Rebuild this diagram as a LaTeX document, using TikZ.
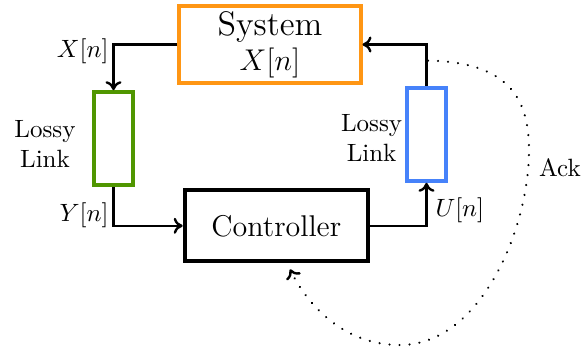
\documentclass[tikz,border=0pt]{standalone}
\usetikzlibrary{calc,positioning,arrows.meta}
\definecolor{sysorange}{RGB}{255,150,20}
\definecolor{linkgreen}{RGB}{80,150,0}
\definecolor{linkblue}{RGB}{70,130,250}
\tikzset{
	block/.style={draw, line width=1.6pt, align=center, font=\large, inner sep=0pt},
	lossy/.style={draw, line width=1.6pt, minimum width=15.4pt, minimum height=37.3pt},
	sig/.style={line width=0.95pt, -{To[length=3.6pt,width=6.4pt]}},
	lbl/.style={inner sep=1pt},
}
\begin{document}
\begin{tikzpicture}[x=0.4pt,y=0.4pt]
		\useasboundingbox (0,0) rectangle (582,-349);
		% blocks
		\node[block, draw=sysorange, minimum width=72.4pt, minimum height=30.8pt] (sys) at (270,-44.5) {{\fontsize{13.6}{15}\selectfont System}\\$X[n]$};
		\node[block, minimum width=73.3pt, minimum height=28.4pt] (ctrl) at (276.3,-225.8) {Controller};
		\node[lossy, draw=linkgreen] (lnkA) at (113.5,-138.8) {};
		\node[lossy, draw=linkblue] (lnkB) at (426.5,-134.2) {};
		\node[align=center] (lnkAtxt) at (45,-144) {Lossy\\Link};
		\node[align=center] (lnkBtxt) at (371.6,-138) {Lossy\\Link};
		% signals
		\draw[sig] (sys.west) -| (lnkA.north);
		\draw[sig] (lnkA.south) |- (ctrl.west);
		\draw[sig] (ctrl.east) -| (lnkB.south);
		\draw[sig] (lnkB.north) |- (sys.east);
		\node[lbl, anchor=east] (xlbl) at (111.5,-51) {$X[n]$};
		\node[lbl, anchor=east] (ylbl) at (111.5,-215) {$Y[n]$};
		\node[lbl, anchor=west] (ulbl) at (432.5,-210) {$U[n]$};
		% acknowledgement
		\coordinate (ackfrom) at ($(lnkB.north)+(1.5,25)$);
		\coordinate (ackto) at ($(ctrl.south)+(13.7,-6)$);
		\draw[sig, dash pattern=on 0.01pt off 4pt, line cap=round] (ackfrom) .. controls (510,-62) and (529,-100) .. (529,-150)
			.. controls (529,-230) and (480,-345) .. (400,-345)
			.. controls (340,-345) and (305,-300) .. (ackto);
		\node (ack) at (560,-168) {Ack};
\end{tikzpicture}
\end{document}
